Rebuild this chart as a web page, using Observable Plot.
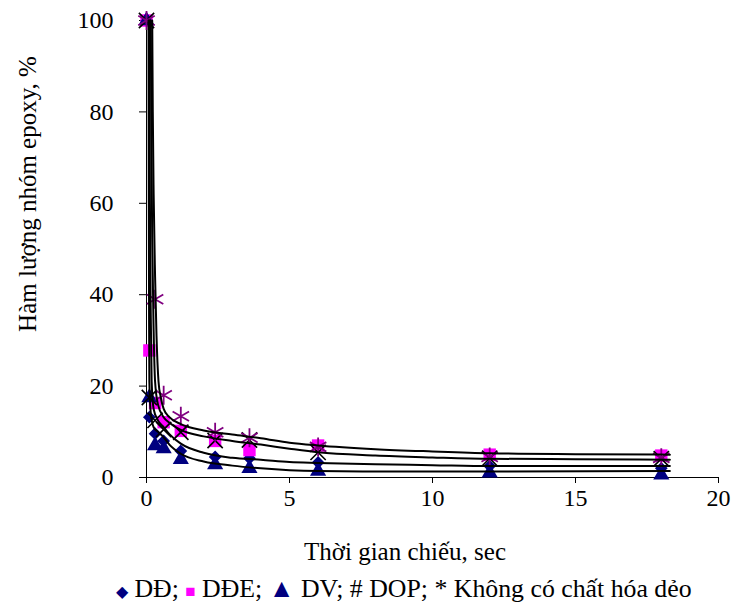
<!DOCTYPE html>
<html>
<head>
<meta charset="utf-8">
<script src="https://cdn.jsdelivr.net/npm/d3@7"></script>
<script src="https://cdn.jsdelivr.net/npm/@observablehq/plot@0.6"></script>
<style>
  html, body { margin: 0; padding: 0; background: #fff; overflow: hidden; }
  .cap { font-family: "Liberation Serif", "Times New Roman", serif; font-size: 25px; color: #000; white-space: nowrap; }
  #xlabel { width: 810px; text-align: center; line-height: 30px; margin-top: 17px; }
  #legend { margin-left: 116px; line-height: 30px; margin-top: 7px; font-size: 25.8px; }
</style>
</head>
<body>
<div id="chart"></div>
<div id="xlabel" class="cap"></div>
<div id="legend" class="cap"></div>
<script>
// Time of irradiation (sec)
const timeSec = [0, 0.1, 0.3, 0.6, 1.2, 2.4, 3.6, 6, 12, 18];
// Epoxy group content (%) per plasticizer
const dd   = [100, 13.2, 9.6, 8.0, 5.8, 4.5, 4.2, 3.3, 2.5, 2.0];
const dde  = [100, 27.8, 16.3, 12.1, 10.2, 8.0, 6.0, 7.0, 5.0, 4.8];
const dv   = [100, 17.5, 7.0, 6.3, 4.0, 2.8, 2.0, 1.4, 1.0, 0.6];
const dop  = [100, 17.5, 12.5, 10.5, 9.9, 8.1, 8.2, 5.5, 4.2, 4.1];
const none = [100, null, 39, 18, 13.4, 9.9, 8.7, 6.7, 4.5, 4.3];

// Trend curves
const fit1X = [0.2, 0.22, 0.25, 0.3, 0.35, 0.42, 0.5, 0.6, 0.8, 1.2, 2, 3, 4, 5, 6, 8, 10, 12, 15, 18.3];
const fit1Y = [100, 80, 62, 44, 31, 21, 17.5, 15, 13.2, 11.7, 10.3, 9.4, 8.6, 7.6, 7.0, 6.2, 5.7, 5.3, 5.1, 5.0];
const fit2X = [0.15, 0.17, 0.2, 0.25, 0.3, 0.4, 0.6, 0.8, 1.2, 2, 3, 4, 5, 6, 8, 10, 12, 15, 18.3];
const fit2Y = [100, 75, 52, 32, 21, 16, 13.2, 12, 10.4, 9.0, 8.0, 7.2, 6.3, 5.5, 4.8, 4.4, 4.1, 4.0, 3.9];
const fit3X = [0.1, 0.12, 0.15, 0.18, 0.25, 0.4, 0.6, 0.8, 1.2, 2, 3, 4, 5, 6, 8, 10, 12, 15, 18.3];
const fit3Y = [100, 60, 35, 21, 15, 12.5, 11, 9.5, 7.4, 5.4, 4.3, 3.9, 3.4, 3.2, 2.9, 2.7, 2.5, 2.5, 2.5];
const fit4X = [0.07, 0.08, 0.09, 0.1, 0.15, 0.25, 0.4, 0.6, 0.8, 1.2, 2, 3, 4, 5, 6, 8, 12, 18.3];
const fit4Y = [100, 60, 35, 21, 14, 11, 10, 8.8, 7.2, 5.2, 3.5, 2.6, 2.0, 1.6, 1.4, 1.3, 1.3, 1.4];

const xTicks = [0, 5, 10, 15, 20];
const yTicks = [0, 20, 40, 60, 80, 100];
const xTitle = "Thời gian chiếu, sec";
const yTitle = "Hàm lượng nhóm epoxy, %";

const pts = (ys) => timeSec.map((t, i) => ({t, v: ys[i]}));
const crv = (xs, ys) => xs.map((t, i) => ({t, v: ys[i]}));

const navy = "#000080", magenta = "#FF00FF", purple = "#800080";

const chart = Plot.plot({
  width: 735,
  height: 520,
  marginLeft: 146,
  marginRight: 17,
  marginTop: 20,
  marginBottom: 43,
  style: {fontFamily: "'Liberation Serif', 'Times New Roman', serif", fontSize: "24px", color: "#000", background: "#fff", overflow: "visible"},
  x: {domain: [0, 20], ticks: xTicks, tickSize: 6, tickPadding: 5, label: null},
  y: {domain: [0, 100], ticks: yTicks, tickSize: 7, tickPadding: 26, label: null},
  marks: [
    Plot.ruleX([0], {y1: 0, y2: 100, stroke: "#000", strokeWidth: 1}),
    Plot.ruleY([0], {x1: 0, x2: 20, stroke: "#000", strokeWidth: 1}),
    Plot.text([yTitle], {frameAnchor: "left", rotate: -90, dx: -119, dy: -55, fontSize: 25, textAnchor: "middle"}),
    Plot.dot(pts(dd), {x: "t", y: "v", symbol: "diamond2", fill: navy, stroke: navy, r: 4.8}),
    Plot.dot(pts(dde), {x: "t", y: "v", symbol: "square", fill: magenta, r: 7}),
    Plot.dot(pts(dv), {x: "t", y: "v", symbol: "triangle", fill: navy, r: 6}),
    Plot.dot(pts(dop), {x: "t", y: "v", symbol: "times", stroke: "#000", strokeWidth: 1.6, r: 7}),
    Plot.dot(pts(none), {x: "t", y: "v", symbol: "asterisk", stroke: purple, strokeWidth: 1.8, r: 9}),
    Plot.line(crv(fit1X, fit1Y), {x: "t", y: "v", curve: "monotone-x", stroke: "#000", strokeWidth: 2}),
    Plot.line(crv(fit2X, fit2Y), {x: "t", y: "v", curve: "monotone-x", stroke: "#000", strokeWidth: 2}),
    Plot.line(crv(fit3X, fit3Y), {x: "t", y: "v", curve: "monotone-x", stroke: "#000", strokeWidth: 2}),
    Plot.line(crv(fit4X, fit4Y), {x: "t", y: "v", curve: "monotone-x", stroke: "#000", strokeWidth: 2})
  ]
});
document.getElementById("chart").appendChild(chart);
document.getElementById("xlabel").textContent = xTitle;

const legendItems = [
  {sym: "◆", color: navy, size: "16px", text: " DĐ;  "},
  {sym: "■", color: magenta, size: "17px", text: " DĐE; "},
  {sym: "▲", color: navy, size: "26px", text: " DV; # DOP; * Không có chất hóa dẻo"}
];
const lg = document.getElementById("legend");
for (const it of legendItems) {
  const s = document.createElement("span");
  s.style.color = it.color; s.style.fontSize = it.size; s.textContent = it.sym;
  lg.appendChild(s);
  lg.appendChild(document.createTextNode(it.text));
}
</script>
</body>
</html>
